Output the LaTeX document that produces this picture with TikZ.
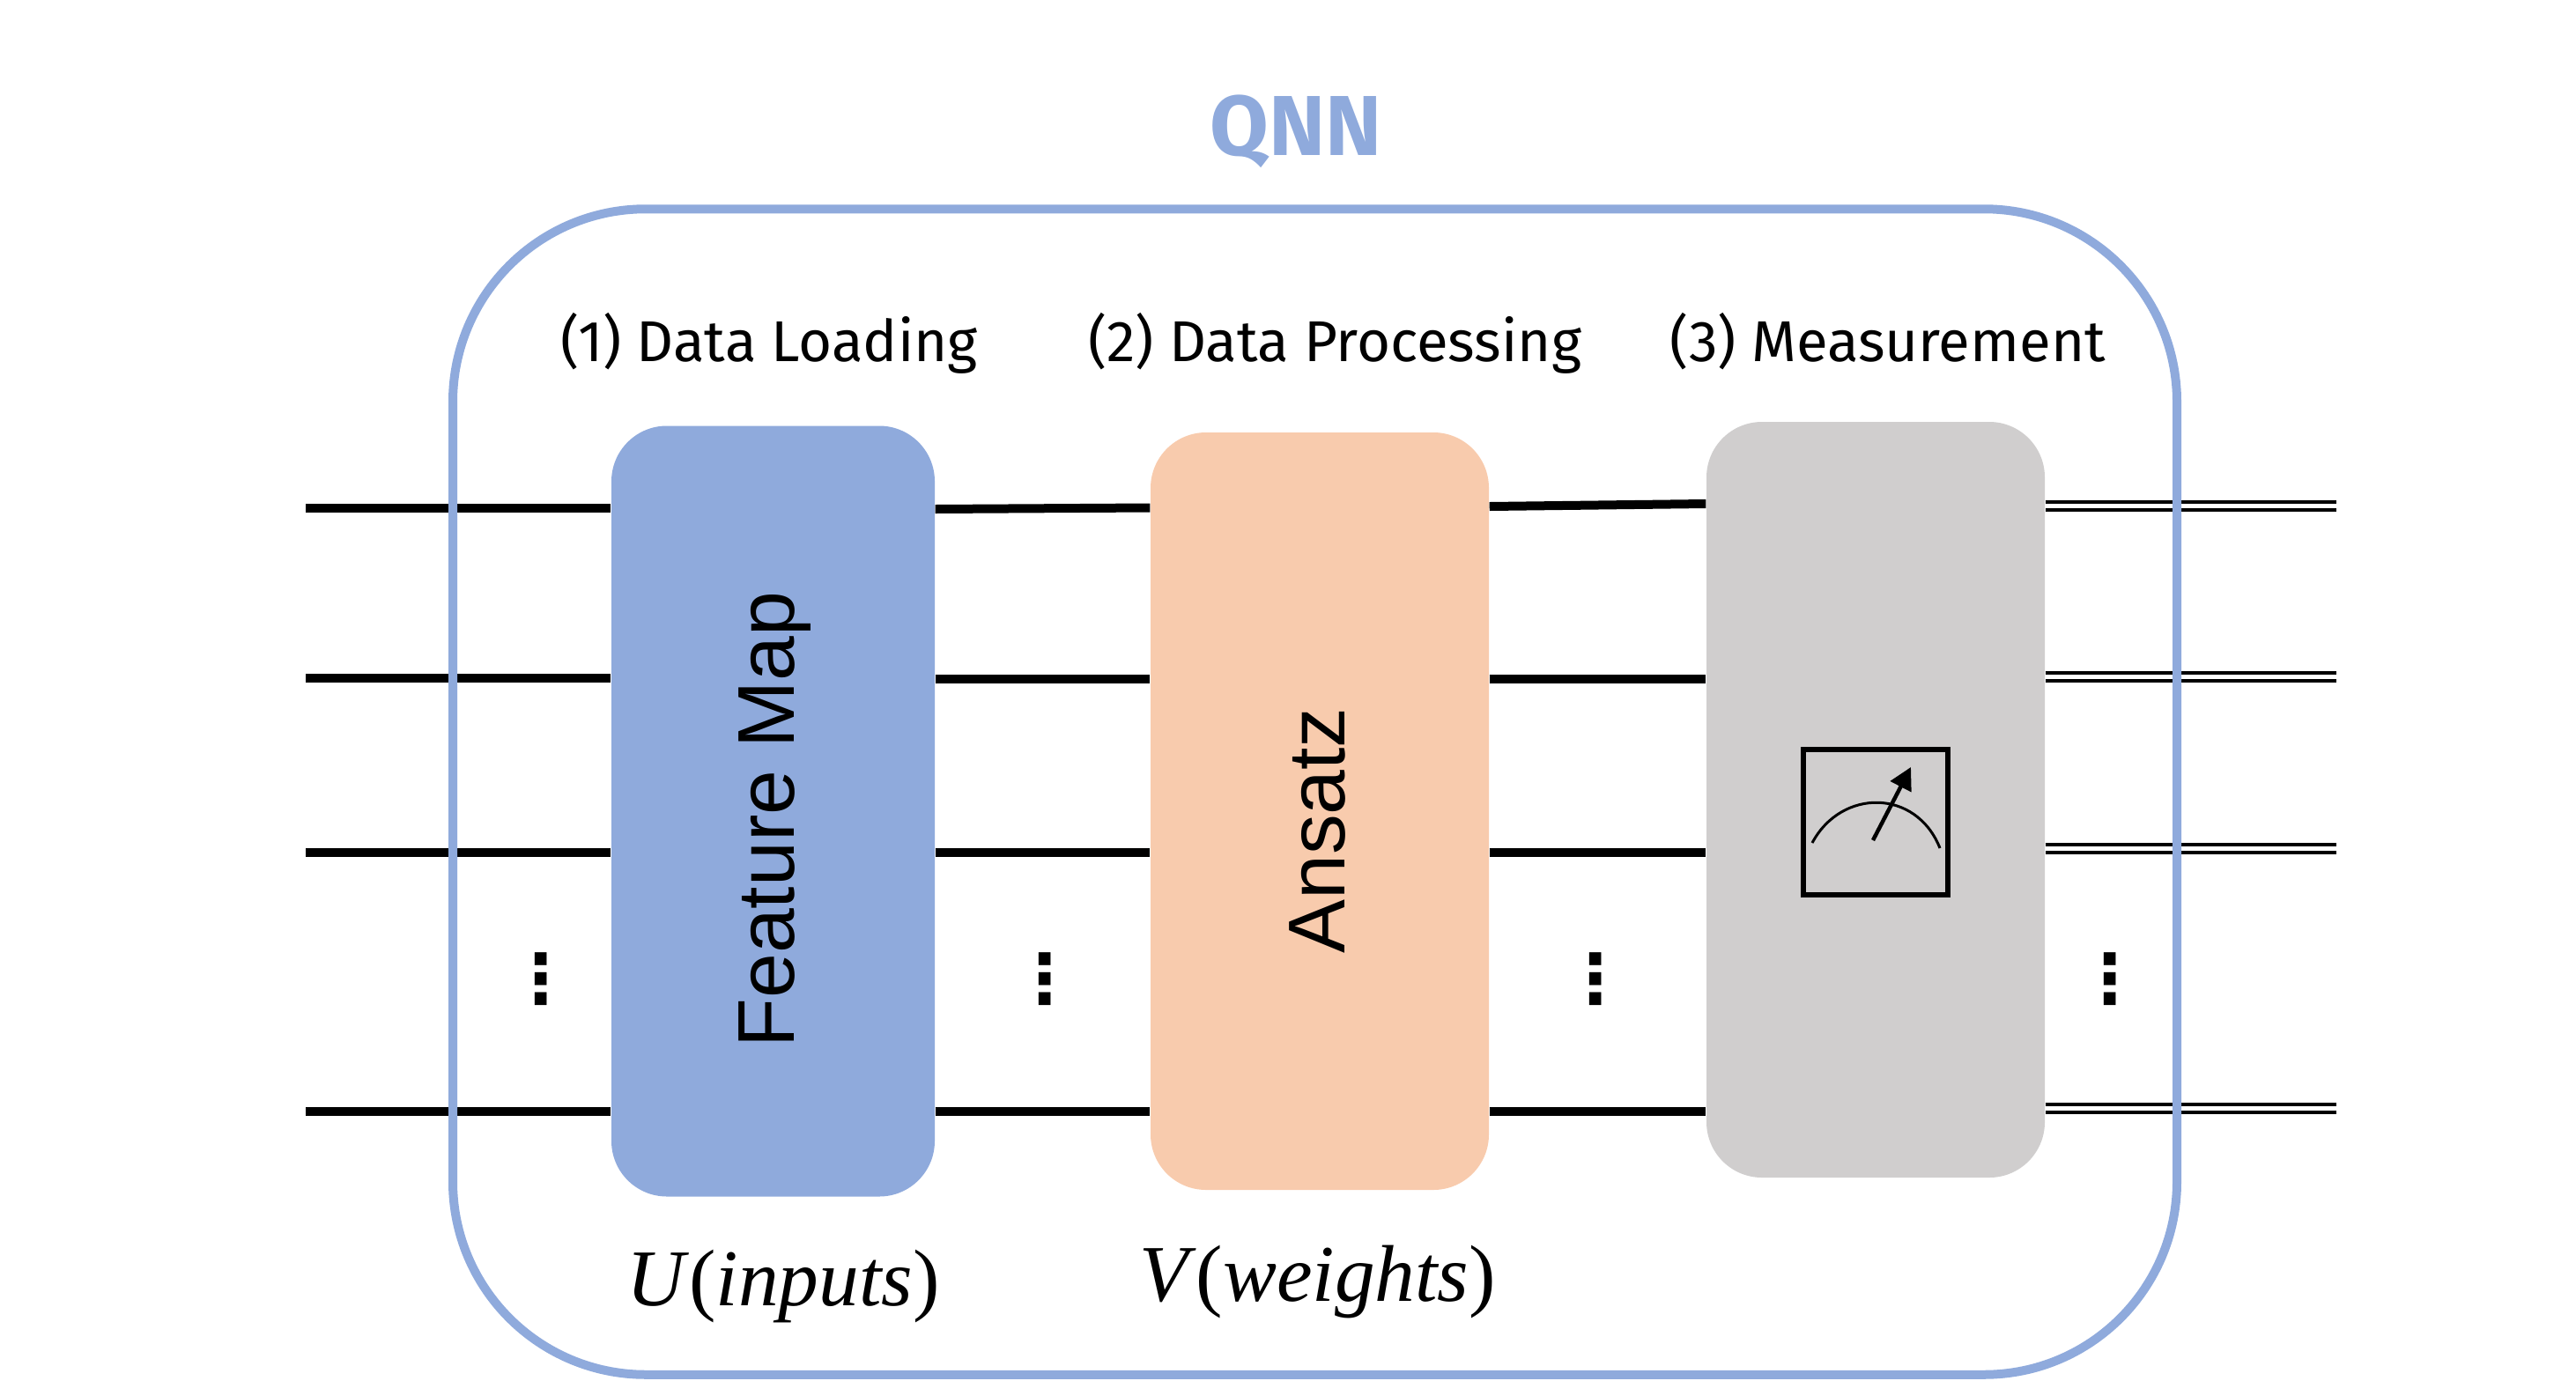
\documentclass[tikz,border=0pt]{standalone}
\usepackage{fontspec}
\setmainfont{Fira Sans}
\newfontfamily\arialfont{Liberation Sans}
\newfontfamily\cambriafont{Liberation Serif}
\newfontfamily\dotsfont{DejaVu Sans Bold}
\usetikzlibrary{arrows.meta}
\definecolor{qnnblue}{HTML}{8FAADC}
\definecolor{ansatzorange}{HTML}{F8CBAD}
\definecolor{measuregray}{HTML}{D0CECE}
\tikzset{
  gatebox/.style={rectangle, rounded corners=0.63cm, inner sep=0pt},
  qwire/.style={line width=0.1cm, black},
  cwire/.style={line width=0.046cm, black, double=white, double distance=0.044cm},
  steplabel/.style={font=\fontsize{18.6}{22}\selectfont, anchor=base, inner sep=0pt},
  gatelabel/.style={font=\arialfont\fontsize{26}{30}\selectfont, anchor=base, rotate=90, inner sep=0pt},
  formula/.style={font=\cambriafont\fontsize{26}{30}\selectfont, anchor=base, inner sep=0pt},
  rowdots/.style={font=\dotsfont\fontsize{22}{26}\selectfont, inner sep=0pt},
}
\begin{document}
\begin{tikzpicture}[y=-1cm]
\useasboundingbox (0,0) rectangle (29.24,15.67);
% gates
\node [gatebox, fill=qnnblue, minimum width=3.67cm, minimum height=8.75cm](FM) at (8.775,9.21){};
\node [gatebox, fill=ansatzorange, minimum width=3.84cm, minimum height=8.60cm](AN) at (14.98,9.21){};
\node [gatebox, fill=measuregray, minimum width=3.84cm, minimum height=8.58cm](ME) at (21.29,9.08){};
% free ends of the wires
\coordinate (in1) at (3.47,5.77);
\coordinate (in2) at (3.47,7.70);
\coordinate (in3) at (3.47,9.68);
\coordinate (in4) at (3.47,12.62);
\coordinate (out1) at (26.515,5.745);
\coordinate (out2) at (26.515,7.685);
\coordinate (out3) at (26.515,9.635);
\coordinate (out4) at (26.515,12.585);
% quantum wires
\draw [qwire](in1) -- (FM.west |- in1);
\draw [qwire](in2) -- (FM.west |- in2);
\draw [qwire](in3) -- (FM.west |- in3);
\draw [qwire](in4) -- (FM.west |- in4);
\draw [qwire](FM.east |- 0,5.78) -- (AN.west |- 0,5.765);
\draw [qwire](FM.east |- 0,7.71) -- (AN.west |- 0,7.71);
\draw [qwire](FM.east |- in3) -- (AN.west |- in3);
\draw [qwire](FM.east |- in4) -- (AN.west |- in4);
\draw [qwire](AN.east |- 0,5.75) -- (ME.west |- 0,5.72);
\draw [qwire](AN.east |- 0,7.71) -- (ME.west |- 0,7.71);
\draw [qwire](AN.east |- in3) -- (ME.west |- in3);
\draw [qwire](AN.east |- in4) -- (ME.west |- in4);
% classical wires
\draw [cwire](ME.east |- out1) -- (out1);
\draw [cwire](ME.east |- out2) -- (out2);
\draw [cwire](ME.east |- out3) -- (out3);
\draw [cwire](ME.east |- out4) -- (out4);
% outer frame goes over the wires
\node [rectangle, draw=qnnblue, line width=0.1cm, rounded corners=2.19cm, minimum width=19.57cm, minimum height=13.235cm, inner sep=0pt](QF) at (14.925,8.99){};
\node [font=\bfseries\fontsize{27.5}{32}\selectfont, text=qnnblue, anchor=base, inner sep=0pt](QT) at (14.71,1.76){QNN};
% labels
\node [steplabel](L1) at (8.73,4.10){(1) Data Loading};
\node [steplabel](L2) at (15.15,4.10){(2) Data Processing};
\node [steplabel](L3) at (21.43,4.10){(3) Measurement};
\node [gatelabel](FT) at (9.01,9.305){Feature Map};
\node [gatelabel](AT) at (15.26,9.43){Ansatz};
\node [formula](UF) at (8.89,14.82){\textit{U}(\textit{inputs})};
\node [formula](VF) at (14.955,14.77){\textit{V}(\textit{weights})};
% dots
\node [rowdots](D1) at (6.14,11.12){⋮};
\node [rowdots](D2) at (11.86,11.12){⋮};
\node [rowdots](D3) at (18.11,11.12){⋮};
\node [rowdots](D4) at (23.95,11.12){⋮};
% meter
\node [rectangle, draw=black, line width=0.06cm, minimum width=1.64cm, minimum height=1.65cm, inner sep=0pt](MB) at (21.29,9.335){};
\draw [line width=0.03cm](20.57,9.57) .. controls (20.9,8.95) and (21.75,8.95) .. (22.02,9.63);
\draw [line width=0.045cm, -{Triangle[length=0.25cm, width=0.26cm]}](21.26,9.54) -- (21.69,8.71);
\end{tikzpicture}
\end{document}
